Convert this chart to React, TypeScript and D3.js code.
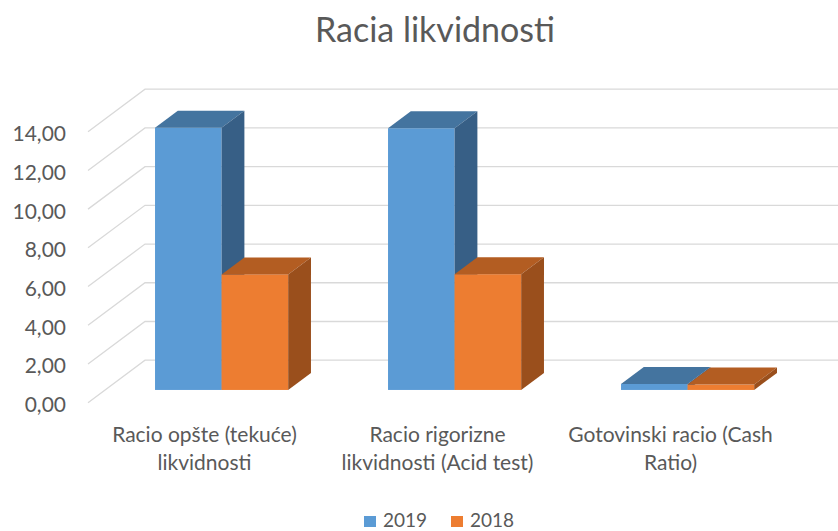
import React from "react";
import * as d3 from "d3";

const categories = [
  "Racio opšte (tekuće) likvidnosti",
  "Racio rigorizne likvidnosti (Acid test)",
  "Gotovinski racio (Cash Ratio)",
];
const categoryLines = [
  ["Racio opšte (tekuće)", "likvidnosti"],
  ["Racio rigorizne", "likvidnosti (Acid test)"],
  ["Gotovinski racio (Cash", "Ratio)"],
];
const series = ["2019", "2018"];
const values2019 = [13.55, 13.52, 0.31];
const values2018 = [5.97, 5.98, 0.28];
const yTicks = [0, 2, 4, 6, 8, 10, 12, 14];

const W = 838;
const H = 531;
const FONT = "Lato, 'Open Sans', sans-serif";
const TEXT = "#595959";

// oblique depth vector of the 3D box
const DX = 57;
const DY = -42.5;
// bar front/back depth fraction
const D0 = 0.3;
const D1 = 0.7;

const colors: Record<string, { front: string; top: string; side: string }> = {
  "2019": { front: "#5B9BD5", top: "#44749F", side: "#375F86" },
  "2018": { front: "#ED7D31", top: "#B35D22", side: "#9A4F1C" },
};

export default function App() {
  const x = d3.scaleBand().domain(categories).range([88, 787]).padding(0);
  const xs = d3
    .scaleBand()
    .domain(series)
    .range([0, x.bandwidth()])
    .paddingInner(0)
    .paddingOuter(0.75);
  const y = d3.scaleLinear().domain([0, 14]).range([402.7, 131.7]);
  const fmt = (v: number) => d3.format(".2f")(v).replace(".", ",");

  const seriesValues: Record<string, number[]> = { "2019": values2019, "2018": values2018 };
  const w = xs.bandwidth();
  const bx = DX * (D1 - D0);
  const by = DY * (D1 - D0);
  const fy = (v: number) => y(v) + DY * D0;

  const bars: React.ReactNode[] = [];
  categories.forEach((c, i) => {
    series.forEach((s) => {
      const v = seriesValues[s][i];
      const fx = (x(c) ?? 0) + (xs(s) ?? 0) + DX * D0;
      const top = fy(v);
      const bottom = fy(0);
      const col = colors[s];
      const pts = (a: number[][]) => a.map((p) => p.join(",")).join(" ");
      bars.push(
        <g key={`${c}-${s}`}>
          <rect x={fx} y={top} width={w} height={bottom - top} fill={col.front} />
          <polygon
            points={pts([
              [fx, top],
              [fx + w, top],
              [fx + w + bx, top + by],
              [fx + bx, top + by],
            ])}
            fill={col.top}
          />
          <polygon
            points={pts([
              [fx + w, top],
              [fx + w + bx, top + by],
              [fx + w + bx, bottom + by],
              [fx + w, bottom],
            ])}
            fill={col.side}
          />
        </g>
      );
    });
  });

  return (
    <div style={{ position: "fixed", left: 0, top: 0 }}>
      <svg width={W} height={H} style={{ display: "block", background: "#fff" }}>
        <text x={435} y={28} textAnchor="middle" dominantBaseline="central" fontFamily={FONT} fontSize={34} fill={TEXT}>
          Racia likvidnosti
        </text>

        {/* gridlines: left wall diagonal + back wall */}
        {yTicks.map((t) => (
          <path
            key={t}
            d={`M${88},${y(t)} L${88 + DX},${y(t) + DY} L${W},${y(t) + DY}`}
            fill="none"
            stroke="#D9D9D9"
            strokeWidth={1.3}
          />
        ))}

        {yTicks.map((t) => (
          <text key={t} x={66} y={y(t) + 1} textAnchor="end" dominantBaseline="central" fontFamily={FONT} fontSize={21} fill={TEXT}>
            {fmt(t)}
          </text>
        ))}

        {bars}

        {categories.map((c, i) => (
          <text key={c} textAnchor="middle" fontFamily={FONT} fontSize={21} fill={TEXT}>
            {categoryLines[i].map((line, k) => (
              <tspan key={k} x={(x(c) ?? 0) + x.bandwidth() / 2} y={442 + k * 28}>
                {line}
              </tspan>
            ))}
          </text>
        ))}

        {/* legend */}
        {series.map((s, i) => (
          <g key={s} transform={`translate(${364 + i * 87},0)`}>
            <rect x={0} y={516} width={12} height={11} fill={colors[s].front} />
            <text x={19} y={519.5} dominantBaseline="central" fontFamily={FONT} fontSize={19} fill={TEXT}>
              {s}
            </text>
          </g>
        ))}
      </svg>
    </div>
  );
}
